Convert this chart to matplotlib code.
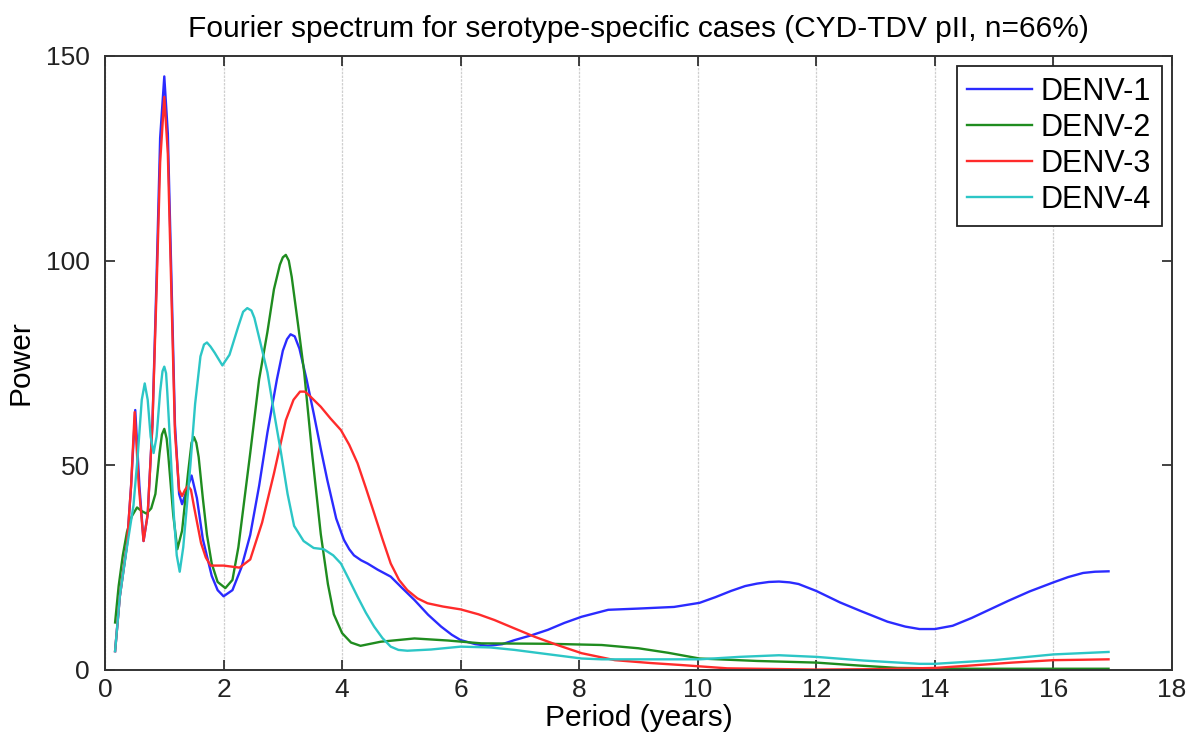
import matplotlib
matplotlib.use("Agg")
import matplotlib.pyplot as plt

plt.rcParams['font.family'] = ['Liberation Sans', 'DejaVu Sans']

#Data (period in years, power)
denv1_x = [0.17, 0.25, 0.37, 0.44, 0.51, 0.58, 0.65, 0.72, 0.80, 0.87, 0.93, 1.0, 1.06, 1.12, 1.18, 1.25,
           1.30, 1.38, 1.46, 1.55, 1.65, 1.80, 1.90, 2.0, 2.15, 2.3, 2.45, 2.6, 2.74, 2.9, 3.0, 3.07, 3.13,
           3.2, 3.28, 3.4, 3.52, 3.64, 3.75, 3.9, 4.03, 4.12, 4.2, 4.32, 4.43, 4.6, 4.82, 5.0, 5.22, 5.45,
           5.67, 5.85, 6.0, 6.25, 6.46, 6.7, 6.91, 7.2, 7.47, 7.75, 8.04, 8.49, 9.0, 9.6, 10.03, 10.3, 10.56,
           10.8, 11.0, 11.2, 11.37, 11.55, 11.7, 12.0, 12.4, 12.75, 13.2, 13.5, 13.74, 14.0, 14.3, 14.62,
           15.24, 15.6, 16.0, 16.25, 16.5, 16.7, 16.93]
denv1_y = [4.6, 18, 30.5, 45, 63.5, 45, 31.5, 38, 60, 96, 130, 145, 131, 96, 60, 43,
           40.5, 44, 47.5, 42, 32, 23, 19.5, 18.0, 19.5, 25, 33, 45, 58, 71, 78, 80.8, 82,
           81.5, 78.5, 71, 62.7, 54, 46.4, 37, 31.8, 29.5, 28, 26.8, 26, 24.5, 22.8, 20.2, 17.1, 13.5,
           10.6, 8.6, 7.3, 6.3, 5.9, 6.3, 7.3, 8.5, 9.8, 11.5, 13.0, 14.7, 15.0, 15.4, 16.4, 17.8, 19.3,
           20.5, 21.1, 21.5, 21.6, 21.4, 21, 19.3, 16.5, 14.4, 11.8, 10.6, 10, 10, 10.8, 12.7,
           16.9, 19.2, 21.4, 22.7, 23.7, 24.0, 24.1]

denv2_x = [0.17, 0.23, 0.3, 0.37, 0.45, 0.54, 0.62, 0.70, 0.78, 0.85, 0.92, 0.96, 1.0, 1.04, 1.07, 1.15,
           1.22, 1.3, 1.4, 1.46, 1.5, 1.54, 1.58, 1.65, 1.72, 1.8, 1.9, 2.03, 2.15, 2.25, 2.45, 2.6,
           2.74, 2.85, 2.95, 3.0, 3.05, 3.1, 3.15, 3.26, 3.36, 3.5, 3.64, 3.76, 3.86, 4.0, 4.15, 4.31,
           4.65, 5.22, 5.78, 6.35, 7.47, 8.38, 9.0, 9.5, 10.03, 11.0, 12.0, 12.7, 13.37, 14.6, 16.93]
denv2_y = [11.6, 20.5, 28, 33.7, 37.5, 39.7, 38.8, 38.2, 39.5, 43, 53, 57.5, 58.9, 56.5, 52, 38,
           29.5, 34, 48, 55.5, 56.9, 55.5, 52, 42, 33, 26, 21.5, 20, 22, 30, 53, 71,
           82.6, 93, 99, 100.8, 101.4, 100, 96, 84, 72.7, 52, 33.2, 21, 13.6, 9, 6.7, 5.9,
           6.9, 7.7, 7.2, 6.5, 6.4, 6.1, 5.3, 4.2, 2.8, 2.2, 1.8, 1.1, 0.5, 0.3, 0.3]

denv3_x = [0.17, 0.25, 0.37, 0.44, 0.50, 0.57, 0.65, 0.72, 0.80, 0.87, 0.93, 1.0, 1.06, 1.12, 1.18, 1.25,
           1.30, 1.35, 1.40, 1.45, 1.50, 1.62, 1.70, 1.78, 2.0, 2.27, 2.45, 2.65, 2.85, 3.05, 3.18, 3.29,
           3.37, 3.45, 3.64, 3.8, 3.98, 4.12, 4.26, 4.4, 4.54, 4.68, 4.82, 4.96, 5.10, 5.27, 5.44, 5.7,
           6.0, 6.3, 6.57, 6.9, 7.25, 7.65, 8.04, 8.6, 9.2, 9.73, 10.5, 12.0, 13.0, 14.0, 14.62, 15.3,
           16.0, 16.5, 16.93]
denv3_y = [4.6, 18, 30.5, 45, 63, 45, 31.5, 38, 60, 93, 124, 140, 126, 92, 58, 44,
           42.5, 44, 45, 44, 40, 31, 27.5, 25.5, 25.5, 25, 27, 36, 48, 61, 66, 68,
           68, 67, 64.3, 61.5, 58.6, 55, 50.5, 44.5, 38.3, 32, 26, 22, 19.5, 17.5, 16.3, 15.5,
           14.8, 13.6, 12.2, 10.2, 8.1, 6.0, 4.1, 2.4, 1.7, 1.2, 0.4, 0.1, 0.2, 0.5, 1.1, 1.8,
           2.4, 2.5, 2.6]

denv4_x = [0.17, 0.25, 0.37, 0.48, 0.55, 0.62, 0.67, 0.72, 0.77, 0.82, 0.87, 0.93, 0.97, 1.0, 1.03, 1.05,
           1.1, 1.16, 1.21, 1.26, 1.32, 1.38, 1.44, 1.52, 1.61, 1.67, 1.72, 1.78, 1.85, 1.98, 2.1, 2.25,
           2.33, 2.4, 2.47, 2.52, 2.62, 2.74, 2.85, 2.97, 3.08, 3.19, 3.35, 3.52, 3.69, 3.85, 3.98, 4.12,
           4.26, 4.4, 4.54, 4.68, 4.82, 4.95, 5.1, 5.5, 6.0, 6.5, 6.91, 7.5, 8.04, 8.38, 9.73, 10.03,
           10.7, 11.37, 12.0, 12.8, 13.74, 14.0, 15.0, 16.0, 16.93]
denv4_y = [4.6, 18, 30, 40.2, 52, 66, 70, 66, 57, 53, 57, 68, 73, 74.1, 72.5, 68,
           55, 38, 28, 24, 30, 40, 50, 65, 76.6, 79.5, 80, 79, 77.5, 74.4, 77, 84,
           87.5, 88.4, 87.8, 86, 80, 72.7, 63, 53, 43, 35.2, 31.5, 29.8, 29.5, 28, 26, 22,
           17.9, 14, 10.6, 7.8, 5.7, 4.9, 4.7, 5.0, 5.7, 5.5, 4.9, 3.8, 2.8, 2.6, 2.6, 2.6,
           3.2, 3.6, 3.2, 2.3, 1.5, 1.5, 2.4, 3.8, 4.4]

series = [("DENV-1", denv1_x, denv1_y, "#2b2bff"),
          ("DENV-2", denv2_x, denv2_y, "#1f8c1f"),
          ("DENV-3", denv3_x, denv3_y, "#ff2b2b"),
          ("DENV-4", denv4_x, denv4_y, "#2cc6c6")]

x_ticks = [0, 2, 4, 6, 8, 10, 12, 14, 16, 18]
y_ticks = [0, 50, 100, 150]

fig = plt.figure(figsize=(11.92, 7.44), dpi=100)
ax = fig.add_axes([0.0881, 0.0995, 0.8951, 0.8253])

for name, xs, ys, col in series:
    ax.plot(xs, ys, color=col, lw=1.7, label=name)

ax.set_xlim(0, 18)
ax.set_ylim(0, 150)
ax.set_xticks(x_ticks)
ax.set_yticks(y_ticks)
ax.xaxis.grid(True, color="#cfcfcf", linestyle=(0, (2, 1)), lw=0.9)
ax.set_axisbelow(True)
ax.tick_params(direction="in", top=True, right=True, length=7, width=1.2,
               labelsize=19, colors="#222222", pad=6)
ax.tick_params(axis="y", pad=11)
for sp in ax.spines.values():
    sp.set_color("#333333")
    sp.set_linewidth(1.4)

ax.set_xlabel("Period (years)", fontsize=21.5, labelpad=1)
ax.set_ylabel("Power", fontsize=21.5, labelpad=8)
ax.set_title("Fourier spectrum for serotype-specific cases (CYD-TDV pII, n=66%)", fontsize=21.5, pad=14)

leg = ax.legend(loc="upper right", fontsize=22, fancybox=False, framealpha=1,
                edgecolor="#222222", borderaxespad=0.33, handlelength=2.1, handletextpad=0.3,
                labelspacing=0.2, borderpad=0.35)
leg.get_frame().set_linewidth(1.3)

fig.savefig("out.png", dpi=100)
